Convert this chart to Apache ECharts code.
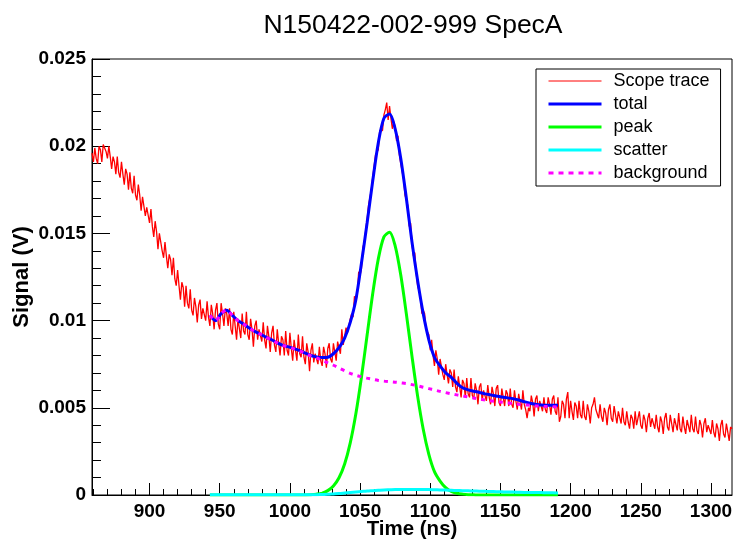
<!DOCTYPE html>
<html><head><meta charset="utf-8">
<script src="https://cdn.jsdelivr.net/npm/echarts@6/dist/echarts.min.js"></script>
<style>html,body{margin:0;padding:0;background:#fff}#c{width:733px;height:540px}</style>
</head><body><div id="c"></div>
<script>
const titleText = 'N150422-002-999 SpecA';
const xAxisTitle = 'Time (ns)';
const yAxisTitle = 'Signal (V)';
const xMajorTicks = [900, 950, 1000, 1050, 1100, 1150, 1200, 1250, 1300];
const xMinorTicks = [860, 870, 880, 890, 900, 910, 920, 930, 940, 950, 960, 970, 980, 990, 1000, 1010, 1020, 1030, 1040, 1050, 1060, 1070, 1080, 1090, 1100, 1110, 1120, 1130, 1140, 1150, 1160, 1170, 1180, 1190, 1200, 1210, 1220, 1230, 1240, 1250, 1260, 1270, 1280, 1290, 1300, 1310];
const seriesNames = ['Scope trace', 'total', 'peak', 'scatter', 'background'];

// scope trace: sampled every 1 ns starting at 859 ns
const traceStart = 859;
const traceStep = 1;
const traceValues = [
  0.0196, 0.0191, 0.0199, 0.0193, 0.0190, 0.0200, 0.0198, 0.0191, 0.0201, 0.0202, 0.0197, 0.0193, 0.0200, 0.0194, 0.0187, 0.0194, 0.0191, 0.0184, 0.0194, 0.0185,
  0.0182, 0.0191, 0.0184, 0.0178, 0.0187, 0.0184, 0.0175, 0.0185, 0.0176, 0.0173, 0.0183, 0.0172, 0.0169, 0.0178, 0.0172, 0.0163, 0.0171, 0.0171, 0.0160, 0.0165,
  0.0164, 0.0156, 0.0164, 0.0154, 0.0148, 0.0157, 0.0151, 0.0141, 0.0150, 0.0151, 0.0140, 0.0136, 0.0145, 0.0137, 0.0130, 0.0138, 0.0135, 0.0126, 0.0136, 0.0124,
  0.0120, 0.0129, 0.0120, 0.0112, 0.0122, 0.0119, 0.0108, 0.0120, 0.0110, 0.0107, 0.0118, 0.0106, 0.0103, 0.0113, 0.0108, 0.0099, 0.0109, 0.0112, 0.0101, 0.0107,
  0.0108, 0.0100, 0.0111, 0.0102, 0.0097, 0.0109, 0.0104, 0.0095, 0.0106, 0.0110, 0.0098, 0.0095, 0.0110, 0.0104, 0.0097, 0.0107, 0.0104, 0.0097, 0.0107, 0.0095,
  0.0092, 0.0105, 0.0097, 0.0089, 0.0101, 0.0100, 0.0090, 0.0104, 0.0094, 0.0092, 0.0105, 0.0092, 0.0089, 0.0101, 0.0095, 0.0085, 0.0097, 0.0100, 0.0089, 0.0095,
  0.0095, 0.0088, 0.0099, 0.0089, 0.0084, 0.0097, 0.0091, 0.0082, 0.0093, 0.0097, 0.0086, 0.0082, 0.0095, 0.0087, 0.0080, 0.0091, 0.0089, 0.0080, 0.0094, 0.0083,
  0.0080, 0.0093, 0.0084, 0.0077, 0.0089, 0.0088, 0.0077, 0.0092, 0.0081, 0.0079, 0.0091, 0.0079, 0.0075, 0.0087, 0.0082, 0.0071, 0.0083, 0.0087, 0.0076, 0.0081,
  0.0082, 0.0075, 0.0085, 0.0077, 0.0074, 0.0085, 0.0081, 0.0073, 0.0084, 0.0087, 0.0078, 0.0076, 0.0087, 0.0082, 0.0077, 0.0088, 0.0087, 0.0081, 0.0095, 0.0086,
  0.0087, 0.0096, 0.0093, 0.0093, 0.0101, 0.0104, 0.0102, 0.0114, 0.0111, 0.0115, 0.0128, 0.0126, 0.0130, 0.0142, 0.0145, 0.0145, 0.0158, 0.0166, 0.0166, 0.0175,
  0.0182, 0.0183, 0.0195, 0.0196, 0.0198, 0.0209, 0.0210, 0.0209, 0.0218, 0.0221, 0.0225, 0.0215, 0.0223, 0.0216, 0.0210, 0.0214, 0.0211, 0.0203, 0.0206, 0.0195,
  0.0190, 0.0191, 0.0181, 0.0172, 0.0172, 0.0166, 0.0154, 0.0156, 0.0144, 0.0137, 0.0139, 0.0127, 0.0120, 0.0121, 0.0114, 0.0104, 0.0106, 0.0104, 0.0095, 0.0094,
  0.0092, 0.0083, 0.0089, 0.0080, 0.0074, 0.0083, 0.0078, 0.0069, 0.0078, 0.0079, 0.0069, 0.0066, 0.0075, 0.0069, 0.0064, 0.0072, 0.0070, 0.0062, 0.0072, 0.0062,
  0.0059, 0.0068, 0.0062, 0.0056, 0.0066, 0.0064, 0.0056, 0.0067, 0.0058, 0.0056, 0.0067, 0.0057, 0.0055, 0.0064, 0.0060, 0.0052, 0.0062, 0.0064, 0.0054, 0.0060,
  0.0061, 0.0054, 0.0063, 0.0056, 0.0052, 0.0062, 0.0058, 0.0051, 0.0061, 0.0063, 0.0053, 0.0051, 0.0061, 0.0056, 0.0051, 0.0060, 0.0058, 0.0051, 0.0061, 0.0052,
  0.0050, 0.0060, 0.0054, 0.0049, 0.0058, 0.0057, 0.0049, 0.0060, 0.0052, 0.0049, 0.0044, 0.0050, 0.0048, 0.0057, 0.0053, 0.0045, 0.0055, 0.0057, 0.0048, 0.0054,
  0.0055, 0.0048, 0.0056, 0.0049, 0.0047, 0.0056, 0.0052, 0.0046, 0.0055, 0.0057, 0.0048, 0.0046, 0.0056, 0.0042, 0.0045, 0.0054, 0.0052, 0.0044, 0.0055, 0.0059,
  0.0044, 0.0054, 0.0048, 0.0043, 0.0053, 0.0051, 0.0044, 0.0054, 0.0046, 0.0044, 0.0054, 0.0045, 0.0043, 0.0052, 0.0048, 0.0041, 0.0050, 0.0052, 0.0056, 0.0049,
  0.0049, 0.0044, 0.0052, 0.0045, 0.0042, 0.0050, 0.0047, 0.0040, 0.0049, 0.0052, 0.0044, 0.0042, 0.0051, 0.0046, 0.0041, 0.0048, 0.0047, 0.0041, 0.0050, 0.0042,
  0.0040, 0.0048, 0.0042, 0.0038, 0.0046, 0.0044, 0.0038, 0.0048, 0.0040, 0.0039, 0.0048, 0.0040, 0.0038, 0.0046, 0.0043, 0.0036, 0.0044, 0.0047, 0.0039, 0.0044,
  0.0044, 0.0038, 0.0046, 0.0039, 0.0036, 0.0045, 0.0042, 0.0035, 0.0044, 0.0047, 0.0039, 0.0037, 0.0046, 0.0041, 0.0036, 0.0044, 0.0043, 0.0037, 0.0047, 0.0038,
  0.0036, 0.0045, 0.0039, 0.0035, 0.0043, 0.0042, 0.0036, 0.0046, 0.0038, 0.0036, 0.0045, 0.0037, 0.0035, 0.0043, 0.0040, 0.0033, 0.0041, 0.0044, 0.0036, 0.0040,
  0.0040, 0.0035, 0.0043, 0.0036, 0.0033, 0.0041, 0.0038, 0.0031, 0.0040, 0.0043, 0.0035, 0.0033, 0.0041, 0.0036, 0.0031, 0.0039, 0.0038
];

// fit components
const fitTime = [943, 947, 951, 955, 959, 963, 967, 971, 975, 979, 983, 987, 991, 995, 999,
  1003, 1007, 1011, 1015, 1019, 1023, 1027, 1031, 1035, 1039, 1043, 1047, 1051, 1055, 1059,
  1063, 1067, 1071, 1075, 1079, 1083, 1087, 1091, 1095, 1099, 1103, 1107, 1111, 1115, 1119,
  1123, 1127, 1131, 1135, 1139, 1143, 1147, 1151, 1155, 1159, 1163, 1167, 1171, 1175, 1179,
  1183, 1187, 1191];
const totalValues = [0.0103, 0.0100, 0.0104, 0.0106, 0.0103, 0.0100, 0.0098, 0.00958, 0.00938, 0.00922, 0.00905, 0.0089, 0.00872, 0.00858, 0.00849,
  0.00839, 0.00828, 0.00814, 0.0080, 0.00792, 0.00788, 0.0079, 0.0081, 0.00845, 0.0090, 0.0099, 0.0112, 0.0133, 0.0156, 0.0180,
  0.0202, 0.0216, 0.02185, 0.0210, 0.0193, 0.0170, 0.0145, 0.0123, 0.0104, 0.0089, 0.0079, 0.0074, 0.0070, 0.00675, 0.0064,
  0.00615, 0.00603, 0.00595, 0.00588, 0.0058, 0.00574, 0.00568, 0.00562, 0.00557, 0.00552, 0.00545, 0.00535, 0.00526, 0.0052, 0.00516,
  0.00515, 0.00515, 0.00515];
const peakValues = [0, 0, 0, 0, 0, 0, 0, 0, 0, 0, 0, 0, 0, 0, 0,
  0, 0.000002, 0.000007, 0.00002, 0.00005, 0.00011, 0.00025, 0.00052, 0.00099, 0.00178, 0.00299, 0.00466, 0.00677, 0.00916, 0.01154,
  0.01354, 0.0148, 0.01507, 0.01429, 0.01261, 0.01037, 0.00795, 0.00567, 0.00377, 0.00233, 0.00134, 0.0008, 0.00042, 0.0002, 0.0001,
  0.00005, 0.00002, 0.00001, 0, 0, 0, 0, 0, 0, 0, 0, 0, 0, 0, 0,
  0, 0, 0];
const scatterValues = [0.00001, 0.00001, 0.00001, 0.00001, 0.00001, 0.00001, 0.00001, 0.00001, 0.00001, 0.00001, 0.00001, 0.00001, 0.00001, 0.00001, 0.00001,
  0.00001, 0.00001, 0.00002, 0.00002, 0.00002, 0.00003, 0.00004, 0.00006, 0.00008, 0.00011, 0.00014, 0.00017, 0.0002, 0.00023, 0.00025,
  0.00027, 0.00029, 0.0003, 0.00031, 0.00031, 0.00032, 0.00032, 0.00032, 0.00031, 0.00031, 0.0003, 0.00029, 0.00028, 0.00027, 0.00026,
  0.00025, 0.00024, 0.00023, 0.00022, 0.00021, 0.0002, 0.00019, 0.00018, 0.00017, 0.00017, 0.00016, 0.00015, 0.00015, 0.00014, 0.00014,
  0.00013, 0.00013, 0.00012];
const backgroundValues = [0.0103, 0.0100, 0.0104, 0.0106, 0.0103, 0.0100, 0.0098, 0.00958, 0.00938, 0.00922, 0.00905, 0.0089, 0.00872, 0.00858, 0.00848,
  0.00838, 0.00826, 0.00812, 0.00797, 0.00786, 0.00772, 0.00758, 0.00744, 0.00728, 0.00712, 0.00698, 0.00686, 0.00678, 0.0067, 0.00663,
  0.00657, 0.00653, 0.0065, 0.00647, 0.00643, 0.00639, 0.00633, 0.00626, 0.00618, 0.0061, 0.00602, 0.00594, 0.00587, 0.0058, 0.00574,
  0.00568, 0.00562, 0.00556, 0.0055, 0.00545, 0.0054, 0.00536, 0.00532, 0.00528, 0.00524, 0.0052, 0.00517, 0.00514, 0.00511, 0.00509,
  0.00507, 0.00506, 0.00505];

const traceData = traceValues.map((v, i) => [traceStart + i * traceStep, v]);
const pair = vals => fitTime.map((t, i) => [t, vals[i]]);

const FONT = 'Liberation Sans';
const plain = v => String(v);
const chart = echarts.init(document.getElementById('c'), null, {renderer: 'canvas'});
chart.setOption({
  animation: false,
  backgroundColor: '#fff',
  title: {
    text: titleText, left: 408, top: 7, textAlign: 'center',
    textStyle: {fontFamily: FONT, fontWeight: 'normal', fontSize: 26.5, color: '#000'}
  },
  grid: {left: 92, top: 59, width: 640, height: 436, show: true, borderColor: '#000', borderWidth: 1,
    containLabel: false, outerBoundsMode: 'none'},
  legend: {
    orient: 'vertical', left: 536, top: 69, selectedMode: false,
    borderColor: '#000', borderWidth: 1, backgroundColor: '#fff',
    padding: [3, 11, 4, 11], itemGap: 5, itemWidth: 53, itemHeight: 14,
    itemStyle: {opacity: 0, borderWidth: 0},
    textStyle: {fontFamily: FONT, fontSize: 18, color: '#000', lineHeight: 18, padding: [0, 0, 0, 7]},
    data: [
      {name: seriesNames[0], lineStyle: {width: 1}, itemStyle: {opacity: 0}},
      {name: seriesNames[1], lineStyle: {width: 3}, itemStyle: {opacity: 0}},
      {name: seriesNames[2], lineStyle: {width: 3}, itemStyle: {opacity: 0}},
      {name: seriesNames[3], lineStyle: {width: 3}, itemStyle: {opacity: 0}},
      {name: seriesNames[4], lineStyle: {width: 3, type: [5, 5]}, itemStyle: {opacity: 0}}
    ]
  },
  xAxis: [{
    type: 'value', min: 859, max: 1315, gridIndex: 0,
    name: xAxisTitle, nameLocation: 'middle', nameGap: 24, nameMoveOverlap: false,
    nameTextStyle: {fontFamily: FONT, fontWeight: 'bold', fontSize: 20.5, color: '#000'},
    axisLine: {show: true, lineStyle: {color: '#000', width: 1}},
    axisTick: {show: true, inside: true, length: 12, customValues: xMajorTicks, lineStyle: {color: '#000', width: 1}},
    axisLabel: {show: true, customValues: xMajorTicks, formatter: plain, margin: 7, fontFamily: FONT, fontWeight: 'bold', fontSize: 19, color: '#000'},
    splitLine: {show: false}
  }, {
    type: 'value', min: 859, max: 1315, gridIndex: 0, position: 'bottom',
    axisLine: {show: false},
    axisTick: {show: true, inside: true, length: 6, customValues: xMinorTicks, lineStyle: {color: '#000', width: 1}},
    axisLabel: {show: false},
    splitLine: {show: false}
  }],
  yAxis: {
    type: 'value', min: 0, max: 0.025, interval: 0.005,
    name: yAxisTitle, nameLocation: 'middle', nameGap: 59, nameRotate: 90, nameMoveOverlap: false,
    nameTextStyle: {fontFamily: FONT, fontWeight: 'bold', fontSize: 22, color: '#000'},
    axisLine: {show: true, lineStyle: {color: '#000', width: 1}},
    axisTick: {show: true, inside: true, length: 18, lineStyle: {color: '#000', width: 1}},
    minorTick: {show: true, splitNumber: 5, length: 9, lineStyle: {color: '#000', width: 1}},
    axisLabel: {margin: 6, formatter: plain, fontFamily: FONT, fontWeight: 'bold', fontSize: 19, color: '#000'},
    splitLine: {show: false}, minorSplitLine: {show: false}
  },
  series: [
    {name: seriesNames[0], type: 'line', data: traceData, symbol: 'none', lineStyle: {color: '#ff0000', width: 1.3}, itemStyle: {color: '#ff0000'}, z: 2},
    {name: seriesNames[1], type: 'line', data: pair(totalValues), symbol: 'none', smooth: 0.3, lineStyle: {color: '#0000ff', width: 3}, itemStyle: {color: '#0000ff'}, z: 3},
    {name: seriesNames[2], type: 'line', data: pair(peakValues), symbol: 'none', smooth: 0.3, lineStyle: {color: '#00ff00', width: 3}, itemStyle: {color: '#00ff00'}, z: 3},
    {name: seriesNames[3], type: 'line', data: pair(scatterValues), symbol: 'none', smooth: 0.3, lineStyle: {color: '#00ffff', width: 3}, itemStyle: {color: '#00ffff'}, z: 3},
    {name: seriesNames[4], type: 'line', data: pair(backgroundValues), symbol: 'none', smooth: 0.3, lineStyle: {color: '#ff00ff', width: 3, type: [4, 5]}, itemStyle: {color: '#ff00ff'}, z: 4}
  ]
});
</script></body></html>
